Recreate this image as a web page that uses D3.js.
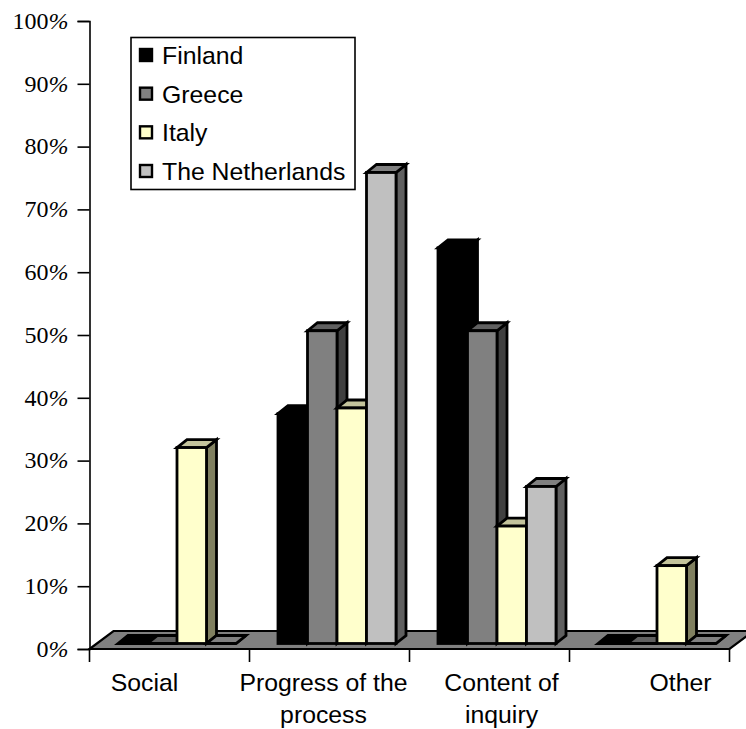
<!DOCTYPE html>
<html>
<head>
<meta charset="utf-8">
<script src="https://cdn.jsdelivr.net/npm/d3@7"></script>
<style>
html,body{margin:0;padding:0;background:#fff}
svg{display:block}
</style>
</head>
<body>
<svg id="chart" width="746" height="729"></svg>
<script>
const categories = ["Social", "Progress of the process", "Content of inquiry", "Other"];
const countries = ["Finland", "Greece", "Italy", "The Netherlands"];
const finland = [0, 36.6, 63, 0];
const greece = [0, 49.8, 49.8, 0];
const italy = [31.2, 37.5, 18.7, 12.4];
const netherlands = [0, 75, 25, 0];
const yTicks = [0, 10, 20, 30, 40, 50, 60, 70, 80, 90, 100];
const xLabelLines = [["Social"], ["Progress of the", "process"], ["Content of", "inquiry"], ["Other"]];

const seriesValues = [finland, greece, italy, netherlands];
const frontFill = ["#000000", "#808080", "#ffffcc", "#c0c0c0"];
const topFill = ["#000000", "#606060", "#c4c49c", "#808080"];
const sideFill = ["#000000", "#404040", "#808060", "#606060"];

const svg = d3.select("#chart");
const serif = "'Liberation Serif', serif";
const sans = "'Liberation Sans', sans-serif";

const y = d3.scaleLinear().domain([0, 100]).range([649, 21]);
const x0 = d3.scaleBand().domain(categories).range([89.5, 729.5]);
const x1 = d3.scaleBand().domain(countries).range([28.5, 146.5]);

// Oblique offsets for the floor slab and the bar extrusion
const floorDx = 24, floorDy = -18;
const barDx = 10, barDy = -8, barLift = 5.5;

// Floor slab
svg.append("path")
  .attr("d", `M${x0.range()[0]},${y(0)}L${x0.range()[1]},${y(0)}L${x0.range()[1] + floorDx},${y(0) + floorDy}L${x0.range()[0] + floorDx},${y(0) + floorDy}Z`)
  .attr("fill", "#808080").attr("stroke", "#000").attr("stroke-width", 2.2).attr("stroke-linejoin", "miter");

// Value axis
const yAxis = svg.append("g").attr("transform", "translate(89.5,0)")
  .call(d3.axisLeft(y).tickValues(yTicks).tickSize(12).tickPadding(8).tickFormat(d => d));
yAxis.selectAll("path,line").attr("stroke", "#000").attr("stroke-width", 1.6);
yAxis.selectAll("text").each(function (d) {
  const t = d3.select(this).text("");
  t.attr("font-family", serif).attr("font-size", 24).attr("fill", "#000").attr("x", -21).attr("dy", "0.3em");
  t.append("tspan").text(d);
  t.append("tspan").attr("font-style", "italic").text("%");
});

// Category axis ticks
const xAxis = svg.append("g").attr("transform", `translate(0,${y(0)})`);
const xTickPos = categories.map(c => x0(c)).concat(x0.range()[1]);
xAxis.selectAll("line").data(xTickPos).join("line")
  .attr("x1", d => d).attr("x2", d => d).attr("y1", 0).attr("y2", 13)
  .attr("stroke", "#000").attr("stroke-width", 1.6);

// Labels sit left of band centre, as wrapped text does in the category slots
const labelShift = [-25, -6, 12, 31];
xAxis.selectAll("text.cat").data(xLabelLines).join("text")
  .attr("class", "cat")
  .attr("text-anchor", "middle").attr("font-family", sans).attr("font-size", 24.8).attr("fill", "#000")
  .attr("transform", (d, i) => `translate(${x0(categories[i]) + x0.bandwidth() / 2 + labelShift[i]},42)`)
  .selectAll("tspan").data(d => d).join("tspan")
  .attr("x", 0).attr("y", (d, i) => i * 32).text(d => d);

// Extruded bars, painted left to right so each front covers its neighbour's side
const bars = svg.append("g").attr("stroke", "#000").attr("stroke-width", 2.8).attr("stroke-linejoin", "miter");
categories.forEach((cat, ci) => {
  countries.forEach((country, si) => {
    const v = seriesValues[si][ci];
    const L = x0(cat) + x1(country), R = L + x1.bandwidth();
    const B = y(0) - barLift, T = y(v) - barLift;
    const g = bars.append("g");
    g.append("path").attr("fill", sideFill[si])
      .attr("d", `M${R},${B}L${R + barDx},${B + barDy}L${R + barDx},${T + barDy}L${R},${T}Z`);
    g.append("path").attr("fill", topFill[si])
      .attr("d", `M${L},${T}L${L + barDx},${T + barDy}L${R + barDx},${T + barDy}L${R},${T}Z`);
    if (v > 0) {
      g.append("rect").attr("x", L).attr("y", T).attr("width", R - L).attr("height", B - T).attr("fill", frontFill[si]);
    }
  });
});

// Legend
const legend = svg.append("g");
legend.append("rect").attr("x", 131).attr("y", 37.5).attr("width", 224).attr("height", 152)
  .attr("fill", "#fff").attr("stroke", "#000").attr("stroke-width", 1.6);
const legendRow = d3.scalePoint().domain(countries).range([55, 171]);
countries.forEach((c, i) => {
  const ry = legendRow(c);
  legend.append("rect").attr("x", 140).attr("y", ry - 6).attr("width", 12).attr("height", 12)
    .attr("fill", frontFill[i]).attr("stroke", "#000").attr("stroke-width", 2.4);
  legend.append("text").attr("x", 162).attr("y", ry + 9)
    .attr("font-family", sans).attr("font-size", 24.8).attr("fill", "#000").text(c);
});
</script>
</body>
</html>
